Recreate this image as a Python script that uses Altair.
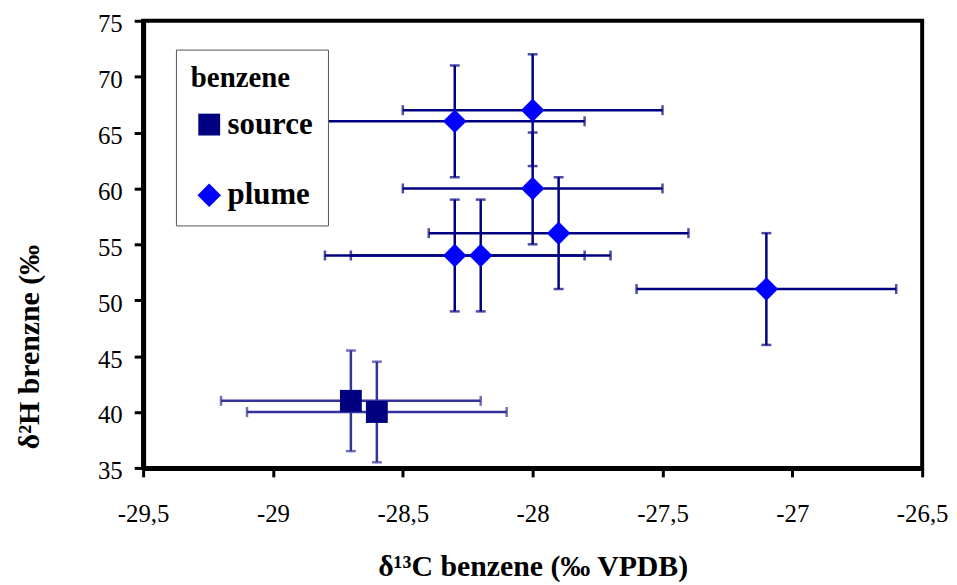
import altair as alt
import pandas as pd

# ---- data ----
groups = ["source", "plume"]

src_x = [-28.7, -28.6]
src_y = [41, 40]
src_xerr = [0.5, 0.5]
src_yerr = [4.5, 4.5]

plume_x = [-28.3, -28.0, -28.0, -27.9, -28.3, -28.2, -27.1]
plume_y = [66, 67, 60, 56, 54, 54, 51]
plume_xerr = [0.5, 0.5, 0.5, 0.5, 0.5, 0.5, 0.5]
plume_yerr = [5, 5, 5, 5, 5, 5, 5]

x_ticks = [-29.5, -29, -28.5, -28, -27.5, -27, -26.5]
y_ticks = [35, 40, 45, 50, 55, 60, 65, 70, 75]

marker_colors = ["#000080", "#0000FF"]
bar_colors = {"source": "#333399", "plume": "#000080"}
shapes = ["square", "diamond"]
sizes = [484, 560]

rows = []
for g, xs, ys, xe, ye in [("source", src_x, src_y, src_xerr, src_yerr),
                          ("plume", plume_x, plume_y, plume_xerr, plume_yerr)]:
    for x, y, a, b in zip(xs, ys, xe, ye):
        rows.append(dict(group=g, x=x, y=y, xlo=x - a, xhi=x + a, ylo=y - b, yhi=y + b))
df = pd.DataFrame(rows)

FONT = "Liberation Serif"
xscale = alt.Scale(domain=[-29.5, -26.5], nice=False, zero=False)
yscale = alt.Scale(domain=[35, 75], nice=False, zero=False)

common_axis = dict(labelFont=FONT, labelFontSize=25, labelColor="black", labelFlush=False,
                   titleFont=FONT, titleFontSize=30, titleFontWeight="bold", titleColor="black",
                   domainColor="black", domainWidth=5, tickColor="black", tickWidth=3, tickSize=9,
                   grid=False)
xaxis = alt.Axis(values=x_ticks, labelExpr="replace(toString(datum.value), '.', ',')",
                 title="δ¹³C benzene (‰ VPDB)", titleY=108, titleBaseline="alphabetic",
                 labelPadding=25, **common_axis)
yaxis = alt.Axis(values=y_ticks, title="δ²H brenzne (‰", titleX=-114, titleY=328,
                 titleAngle=270, titleAlign="center", titleBaseline="middle",
                 labelPadding=12, labelOffset=3, **common_axis)

base = alt.Chart(df)
layers = []
for g in groups:
    c = bar_colors[g]
    sub = base.transform_filter(alt.datum.group == g)
    layers.append(sub.mark_rule(color=c, strokeWidth=2.5).encode(
        x=alt.X("xlo:Q", scale=xscale, axis=xaxis), x2="xhi:Q", y=alt.Y("y:Q", scale=yscale, axis=yaxis)))
    layers.append(sub.mark_rule(color=c, strokeWidth=2.5).encode(
        x=alt.X("x:Q", scale=xscale), y=alt.Y("ylo:Q", scale=yscale), y2="yhi:Q"))
    layers.append(sub.transform_fold(["xlo", "xhi"], as_=["k", "xc"]).mark_tick(
        color=c, orient="vertical", size=10, thickness=2.5).encode(
        x=alt.X("xc:Q", scale=xscale), y=alt.Y("y:Q", scale=yscale)))
    layers.append(sub.transform_fold(["ylo", "yhi"], as_=["k", "yc"]).mark_tick(
        color=c, orient="horizontal", size=10, thickness=2.5).encode(
        x=alt.X("x:Q", scale=xscale), y=alt.Y("yc:Q", scale=yscale)))

legend = alt.Legend(title="benzene", orient="none", legendX=33, legendY=29,
                    padding=15, strokeColor="#555555", fillColor="white",
                    titleFont=FONT, titleFontSize=29, titleFontWeight="bold", titleColor="black",
                    titlePadding=16,
                    labelExpr="datum.label + '\u00a0\u00a0\u00a0\u00a0\u00a0'",
                    labelFont=FONT, labelFontSize=31, labelFontWeight="bold", labelColor="black",
                    labelOffset=3, symbolSize=380, symbolStrokeWidth=0, symbolOffset=3,
                    rowPadding=39)

points = base.mark_point(filled=True, opacity=1, strokeWidth=0).encode(
    x=alt.X("x:Q", scale=xscale),
    y=alt.Y("y:Q", scale=yscale),
    color=alt.Color("group:N", scale=alt.Scale(domain=groups, range=marker_colors), legend=legend),
    shape=alt.Shape("group:N", scale=alt.Scale(domain=groups, range=shapes), legend=legend),
    size=alt.Size("group:N", scale=alt.Scale(domain=groups, range=sizes), legend=None),
)
layers.append(points)

chart = alt.layer(*layers).properties(
    width=784, height=450,
    autosize=alt.AutoSizeParams(type="none"),
    padding={"left": 136, "top": 11, "right": 27, "bottom": 114},
).configure_view(stroke="black", strokeWidth=4)

chart.save("out.html", embed_options={"renderer": "svg", "actions": False})
